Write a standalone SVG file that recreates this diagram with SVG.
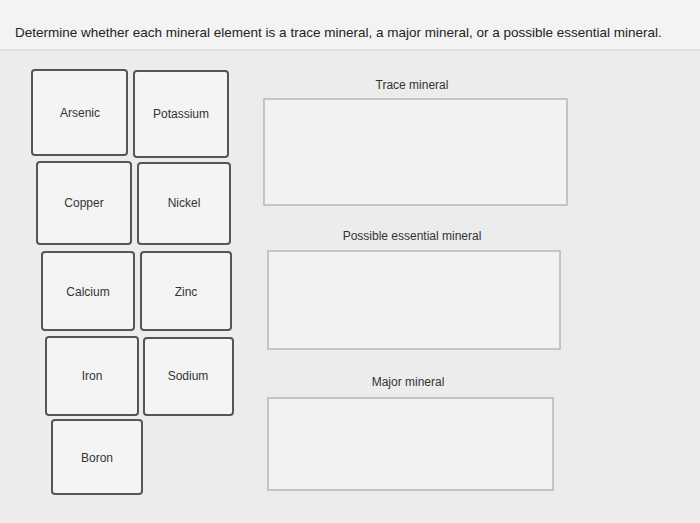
<svg xmlns="http://www.w3.org/2000/svg" width="700" height="523" viewBox="0 0 700 523">
<style>
.t{fill:#f4f4f4;stroke:#555;stroke-width:2;}
.s{fill:none;stroke:#bbb;stroke-width:3;}
.z{fill:#f2f2f2;stroke:#a8a8a8;stroke-width:1.2;}
text{font-family:"Liberation Sans",Arial,sans-serif;font-size:12px;fill:#333;text-anchor:middle;}
</style>
<rect width="700" height="523" fill="#ececec"/>
<rect x="0" y="0" width="700" height="50" fill="#f3f3f3"/>
<line x1="0" y1="50" x2="700" y2="50" stroke="#ccc"/>
<text x="15" y="37" style="text-anchor:start;font-size:13.5px;fill:#222">Determine whether each mineral element is a trace mineral, a major mineral, or a possible essential mineral.</text>
<g id="arsenic"><rect class="t" x="32" y="70" width="95" height="85" rx="3"/><text x="80" y="117">Arsenic</text></g>
<g id="potassium"><rect class="t" x="134" y="71" width="94" height="86" rx="3"/><text x="181" y="118">Potassium</text></g>
<g id="copper"><rect class="t" x="37" y="162" width="94" height="82" rx="3"/><text x="84" y="207">Copper</text></g>
<g id="nickel"><rect class="t" x="138" y="163" width="92" height="81" rx="3"/><text x="184" y="207">Nickel</text></g>
<g id="calcium"><rect class="t" x="42" y="252" width="92" height="78" rx="3"/><text x="88" y="296">Calcium</text></g>
<g id="zinc"><rect class="t" x="141" y="252" width="90" height="78" rx="3"/><text x="186" y="296">Zinc</text></g>
<g id="iron"><rect class="t" x="46" y="337" width="92" height="78" rx="3"/><text x="92" y="380">Iron</text></g>
<g id="sodium"><rect class="t" x="144" y="338" width="89" height="77" rx="3"/><text x="188" y="380">Sodium</text></g>
<g id="boron"><rect class="t" x="52" y="420" width="90" height="74" rx="3"/><text x="97" y="462">Boron</text></g>
<g id="trace"><text x="412" y="89">Trace mineral</text><rect class="z" x="264" y="99" width="303" height="106"/></g>
<g id="possible"><text x="412" y="240">Possible essential mineral</text><rect class="z" x="268" y="251" width="292" height="98"/></g>
<g id="major"><text x="408" y="386">Major mineral</text><rect class="z" x="268" y="398" width="285" height="92"/></g>
<g id="connectors"></g>
</svg>
